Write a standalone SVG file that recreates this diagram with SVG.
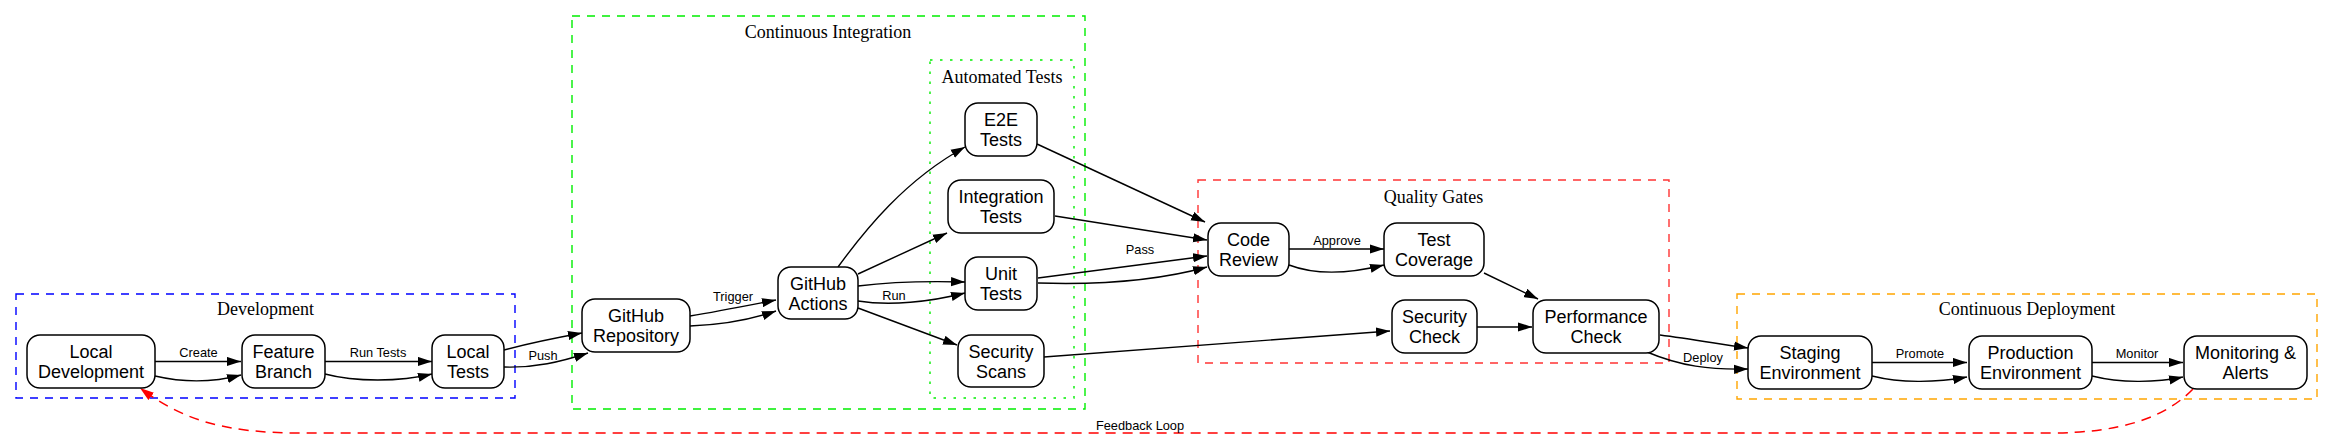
<svg xmlns="http://www.w3.org/2000/svg" width="2333" height="439" viewBox="0 0 2333 439">
<style>
.bg{fill:#ffffff}
.cl{fill:none;stroke-width:1.4;stroke-dasharray:8,7}
.ct{font-family:"Liberation Serif","Times New Roman",serif;font-size:18px;text-anchor:middle;fill:#000}
.nd rect{fill:#ffffff;stroke:#000;stroke-width:1.5}
.nd text{font-family:"Liberation Sans",Arial,sans-serif;font-size:18px;text-anchor:middle;fill:#000}
.e{fill:none;stroke:#000;stroke-width:1.4;marker-end:url(#arr)}
.fb{fill:none;stroke:#ff0000;stroke-width:1.5;stroke-dasharray:10,7;marker-end:url(#arrR)}
.el{font-family:"Liberation Sans",Arial,sans-serif;font-size:12.8px;text-anchor:middle;fill:#000}
</style>
<defs>
<marker id="arr" markerUnits="userSpaceOnUse" markerWidth="15" markerHeight="10" refX="14" refY="5" orient="auto"><path d="M0,0.4 L14,5 L0,9.6 z" fill="#000"/></marker>
<marker id="arrR" markerUnits="userSpaceOnUse" markerWidth="15" markerHeight="10" refX="14" refY="5" orient="auto"><path d="M0,0.4 L14,5 L0,9.6 z" fill="#ff0000"/></marker>
</defs>
<rect class="bg" x="0" y="0" width="2333" height="439"/>

<g id="clusters">
<g id="cluster_dev"><rect class="cl" x="16" y="294" width="499" height="104" stroke="#0000ff"/><text class="ct" x="265.5" y="315">Development</text></g>
<g id="cluster_ci"><rect class="cl" x="572" y="16" width="513" height="393" stroke="#00ee00"/><text class="ct" x="828" y="38">Continuous Integration</text></g>
<g id="cluster_tests"><rect x="930" y="60" width="144" height="338" fill="none" stroke="#00ee00" stroke-width="1.4" stroke-dasharray="2.5,7.5"/><text class="ct" x="1002" y="83">Automated Tests</text></g>
<g id="cluster_qg"><rect class="cl" x="1198" y="180" width="471" height="183" stroke="#ff3333"/><text class="ct" x="1433.5" y="203">Quality Gates</text></g>
<g id="cluster_cd"><rect class="cl" x="1737" y="294" width="580" height="105" stroke="#ffa500"/><text class="ct" x="2027" y="315">Continuous Deployment</text></g>
</g>

<g id="edges">
<path class="e" d="M155,361.5 L241,361.5"/>
<path class="e" d="M155,376 C185,383 215,382 241,375"/>
<path class="e" d="M325,361.5 L432,361.5"/>
<path class="e" d="M325,374 C355,382 400,382 432,374"/>
<path class="e" d="M504,350 C530,343 555,338 582,333"/>
<path class="e" d="M504,367 C535,368 560,362 588,353"/>
<path class="e" d="M690,316 C720,311 750,305 776,300"/>
<path class="e" d="M690,326 C720,325 750,320 776,311"/>
<path class="e" d="M838,267 C865,230 905,180 965,147"/>
<path class="e" d="M858,274 L947,233"/>
<path class="e" d="M858,286 C890,282 930,281 965,282"/>
<path class="e" d="M858,301 C890,306 930,302 965,293"/>
<path class="e" d="M858,308 L957,345"/>
<path class="e" d="M1037,144 L1205,222"/>
<path class="e" d="M1055,216 L1207,240"/>
<path class="e" d="M1038,278 L1207,256"/>
<path class="e" d="M1038,283 C1100,285 1160,280 1207,267"/>
<path class="e" d="M1044,357 L1390,331"/>
<path class="e" d="M1289,249 L1384,249"/>
<path class="e" d="M1289,265 C1310,273 1340,276 1384,265"/>
<path class="e" d="M1484,273 L1538,299"/>
<path class="e" d="M1477,327 L1532,327"/>
<path class="e" d="M1660,335 C1690,339 1720,344 1748,348"/>
<path class="e" d="M1647,352 C1680,366 1710,370 1748,369"/>
<path class="e" d="M1872,362.5 L1967,362.5"/>
<path class="e" d="M1872,376 C1900,383 1935,383 1967,377"/>
<path class="e" d="M2092,362.5 L2183,362.5"/>
<path class="e" d="M2092,376 C2120,383 2155,383 2183,377"/>
<path class="fb" d="M2193,389 C2165,418 2120,433 2050,433 L300,433 C220,433 180,418 140,388"/>
<text class="el" x="198.5" y="357">Create</text>
<text class="el" x="378" y="357">Run Tests</text>
<text class="el" x="543" y="360">Push</text>
<text class="el" x="733" y="301">Trigger</text>
<text class="el" x="894" y="300">Run</text>
<text class="el" x="1140" y="254">Pass</text>
<text class="el" x="1337" y="245">Approve</text>
<text class="el" x="1703" y="362">Deploy</text>
<text class="el" x="1920" y="358">Promote</text>
<text class="el" x="2137" y="358">Monitor</text>
<text class="el" x="1140" y="430">Feedback Loop</text>
</g>

<g id="nodes">
<g id="local_dev" class="nd"><rect x="27" y="335" width="128" height="53" rx="13"/><text x="91" y="358">Local<tspan x="91" dy="20">Development</tspan></text></g>
<g id="feature_branch" class="nd"><rect x="242" y="335" width="83" height="53" rx="13"/><text x="283.5" y="358">Feature<tspan x="283.5" dy="20">Branch</tspan></text></g>
<g id="local_tests" class="nd"><rect x="432" y="335" width="72" height="53" rx="13"/><text x="468" y="358">Local<tspan x="468" dy="20">Tests</tspan></text></g>
<g id="github_repo" class="nd"><rect x="582" y="299" width="108" height="53" rx="13"/><text x="636" y="322">GitHub<tspan x="636" dy="20">Repository</tspan></text></g>
<g id="github_actions" class="nd"><rect x="778" y="267" width="80" height="52" rx="13"/><text x="818" y="289.5">GitHub<tspan x="818" dy="20">Actions</tspan></text></g>
<g id="e2e_tests" class="nd"><rect x="965" y="103" width="72" height="53" rx="13"/><text x="1001" y="126">E2E<tspan x="1001" dy="20">Tests</tspan></text></g>
<g id="integration_tests" class="nd"><rect x="948" y="180" width="106" height="53" rx="13"/><text x="1001" y="203">Integration<tspan x="1001" dy="20">Tests</tspan></text></g>
<g id="unit_tests" class="nd"><rect x="965" y="257" width="72" height="53" rx="13"/><text x="1001" y="280">Unit<tspan x="1001" dy="20">Tests</tspan></text></g>
<g id="security_scans" class="nd"><rect x="958" y="335" width="86" height="52" rx="13"/><text x="1001" y="357.5">Security<tspan x="1001" dy="20">Scans</tspan></text></g>
<g id="code_review" class="nd"><rect x="1208" y="223" width="81" height="53" rx="13"/><text x="1248.5" y="246">Code<tspan x="1248.5" dy="20">Review</tspan></text></g>
<g id="test_coverage" class="nd"><rect x="1384" y="223" width="100" height="53" rx="13"/><text x="1434" y="246">Test<tspan x="1434" dy="20">Coverage</tspan></text></g>
<g id="security_check" class="nd"><rect x="1392" y="300" width="85" height="53" rx="13"/><text x="1434.5" y="323">Security<tspan x="1434.5" dy="20">Check</tspan></text></g>
<g id="performance_check" class="nd"><rect x="1533" y="300" width="126" height="53" rx="13"/><text x="1596" y="323">Performance<tspan x="1596" dy="20">Check</tspan></text></g>
<g id="staging" class="nd"><rect x="1748" y="336" width="124" height="53" rx="13"/><text x="1810" y="359">Staging<tspan x="1810" dy="20">Environment</tspan></text></g>
<g id="production" class="nd"><rect x="1969" y="336" width="123" height="53" rx="13"/><text x="2030.5" y="359">Production<tspan x="2030.5" dy="20">Environment</tspan></text></g>
<g id="monitoring" class="nd"><rect x="2184" y="336" width="123" height="53" rx="13"/><text x="2245.5" y="359">Monitoring &amp;<tspan x="2245.5" dy="20">Alerts</tspan></text></g>
</g>
</svg>
